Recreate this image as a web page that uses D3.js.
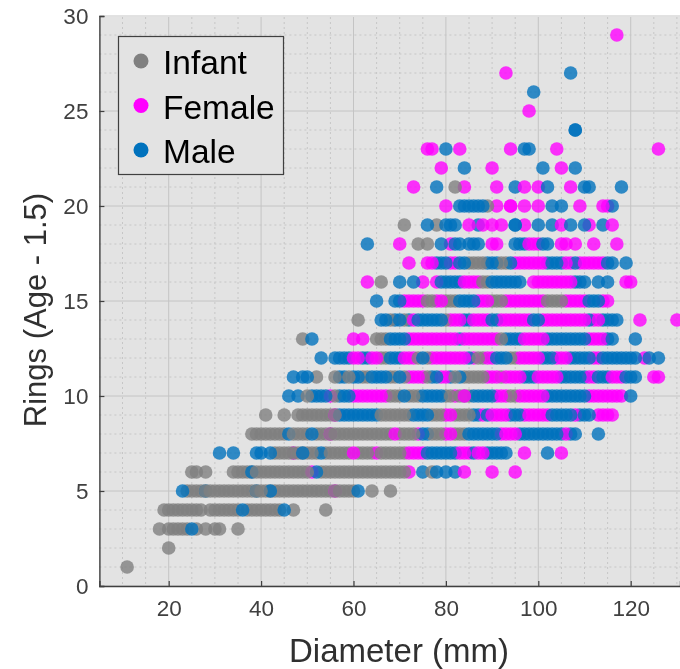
<!DOCTYPE html>
<html>
<head>
<meta charset="utf-8">
<script src="https://cdnjs.cloudflare.com/ajax/libs/d3/7.8.5/d3.min.js"></script>
<style>
  html, body { margin: 0; padding: 0; background: #fff; }
  svg { display: block; filter: blur(0.45px); font-family: "Liberation Sans", Arial, sans-serif; }
</style>
</head>
<body>
<svg id="chart" width="680" height="669"></svg>
<script>
var sexes = ["Infant", "Female", "Male"];
var sexColors = ["#808080", "#ff00ff", "#0072bd"];
var xTicks = [20, 40, 60, 80, 100, 120];
var yTicks = [0, 5, 10, 15, 20, 25, 30];

// diameters (mm), one list per rings value
var infantByRing = {
  1: [11],
  2: [20],
  3: [18, 20, 21, 22, 23, 24, 26, 28, 30, 31, 35],
  4: [19, 20, 21, 22, 23, 24, 25, 26, 27, 29, 30, 31, 32, 33, 34, 35, 37, 38, 39, 40, 41, 42, 43, 44, 47, 54],
  5: [24, 25, 26, 27, 28, 29, 30, 31, 32, 33, 34, 35, 36, 37, 38, 39, 40, 41, 42, 43, 44, 45, 46, 47, 48, 49, 50, 51, 52, 53, 54, 55, 56, 57, 58, 59, 60, 64, 68],
  6: [25, 26, 28, 34, 35, 36, 37, 38, 39, 40, 41, 42, 43, 44, 45, 46, 47, 48, 49, 50, 53, 54, 55, 56, 57, 58, 59, 60, 61, 62, 63, 64, 65, 66, 67, 68, 69, 70, 71, 77],
  7: [43, 44, 45, 46, 47, 48, 49, 50, 51, 52, 54, 55, 56, 57, 58, 59, 61, 62, 63, 64, 66, 67, 68, 69, 70, 71],
  8: [38, 39, 40, 41, 42, 43, 44, 45, 47, 48, 49, 50, 52, 53, 54, 55, 56, 57, 58, 59, 60, 61, 62, 63, 64, 65, 66, 67, 68, 70, 71, 72, 73, 77, 78, 79, 82, 83, 84],
  9: [41, 45, 48, 49, 50, 51, 52, 53, 54, 55, 56, 66, 67, 68, 69, 70, 71, 72, 77, 78, 79, 82, 83, 84, 85],
  10: [50, 56, 68, 69, 70, 72, 73, 74, 80, 81, 83, 84, 85, 94, 95],
  11: [52, 56, 59, 62, 63, 68, 69, 71, 76, 82, 84, 85, 86, 87, 88, 92],
  12: [66, 67, 74, 76, 87, 88, 94, 95],
  13: [49, 65, 66, 67, 92],
  14: [61, 68, 71, 80],
  15: [76, 77, 80, 81, 82, 90, 91, 92, 102, 103, 104, 105],
  16: [66, 88, 89],
  17: [85, 86, 87, 88, 92, 93],
  18: [74, 76],
  19: [71, 78],
  20: [89],
  21: [82]
};

var femaleByRing = {
  5: [56],
  6: [51, 72, 84, 90, 95],
  7: [47, 60, 65, 72, 73, 74, 75, 83, 84, 85, 87, 88, 97, 105],
  8: [55, 69, 74, 80, 81, 92, 93, 94, 95, 106],
  9: [56, 80, 81, 88, 90, 91, 92, 93, 97, 98, 99, 100, 101, 102, 108, 113, 114, 115, 116],
  10: [55, 60, 61, 62, 63, 64, 65, 66, 67, 82, 84, 91, 92, 93, 96, 97, 98, 99, 100, 101, 111, 112, 113, 114, 115, 116, 117, 118],
  11: [72, 73, 74, 75, 79, 80, 89, 90, 91, 93, 94, 95, 96, 100, 101, 102, 103, 104, 111, 112, 116, 117, 118, 125, 126],
  12: [60, 61, 64, 65, 71, 72, 73, 77, 78, 79, 80, 81, 82, 83, 84, 86, 89, 90, 96, 97, 98, 99, 100, 104, 105, 106, 112, 113, 123],
  13: [60, 62, 72, 73, 74, 75, 76, 77, 78, 79, 80, 81, 82, 84, 85, 86, 87, 88, 89, 90, 91, 97, 98, 99, 100, 101, 111, 112, 113, 114],
  14: [73, 81, 82, 83, 86, 87, 88, 89, 92, 93, 94, 95, 96, 97, 98, 101, 102, 103, 104, 105, 106, 107, 108, 109, 110, 112, 113, 122, 130],
  15: [71, 72, 73, 74, 75, 78, 79, 87, 88, 89, 93, 94, 95, 96, 97, 98, 99, 100, 101, 106, 107, 108, 109, 110, 114, 115],
  16: [63, 75, 78, 84, 85, 86, 87, 99, 100, 101, 102, 103, 104, 105, 106, 107, 119, 120],
  17: [72, 76, 77, 81, 82, 95, 96, 97, 98, 99, 100, 101, 106, 107, 109, 110, 111, 112, 113, 114],
  18: [70, 81, 90, 91, 98, 99, 100, 105, 106, 108, 112, 117],
  19: [85, 88, 90, 92, 97, 105, 111, 116],
  20: [80, 91, 94, 94, 97, 100, 109, 114, 115],
  21: [73, 84, 91, 97, 100, 107],
  22: [79, 90, 105],
  23: [76, 77, 83, 94, 104, 126],
  25: [98],
  27: [93],
  29: [117]
};

var maleByRing = {
  3: [25],
  4: [36, 45],
  5: [23, 28, 39, 42, 61],
  6: [38, 52, 75, 78, 80, 82],
  7: [31, 34, 39, 40, 42, 49, 53, 76, 77, 78, 79, 80, 81, 82, 86, 89, 90, 91, 92, 93, 102],
  8: [46, 51, 75, 76, 85, 86, 87, 88, 89, 90, 91, 96, 97, 98, 99, 100, 101, 102, 103, 104, 105, 107, 108, 113],
  9: [57, 58, 59, 60, 61, 62, 63, 64, 65, 73, 74, 75, 76, 86, 87, 89, 94, 95, 96, 103, 104, 105, 106, 107, 109, 110, 111],
  10: [46, 48, 51, 52, 53, 54, 57, 58, 59, 71, 75, 76, 77, 78, 79, 86, 87, 88, 89, 90, 102, 103, 104, 105, 106, 107, 108, 109, 110, 120],
  11: [47, 49, 50, 57, 58, 60, 61, 64, 65, 66, 67, 70, 77, 78, 81, 83, 97, 98, 99, 105, 106, 107, 108, 109, 110, 113, 114, 115, 119, 120, 121],
  12: [53, 56, 57, 58, 59, 62, 63, 68, 69, 70, 75, 85, 91, 92, 93, 101, 102, 103, 107, 108, 109, 110, 111, 114, 115, 116, 117, 118, 119, 120, 121, 124, 126],
  13: [51, 68, 69, 70, 71, 83, 93, 94, 95, 96, 102, 103, 104, 105, 106, 107, 108, 109, 110, 115, 116, 121],
  14: [66, 67, 69, 70, 72, 74, 75, 76, 77, 78, 79, 84, 85, 90, 91, 99, 100, 111, 114, 115, 116, 117],
  15: [65, 69, 70, 83, 84, 85, 86, 111, 112, 113],
  16: [70, 73, 79, 80, 81, 82, 83, 90, 91, 92, 93, 94, 95, 96, 108, 109, 110, 113, 115],
  17: [78, 79, 80, 83, 84, 89, 90, 91, 94, 102, 103, 104, 105, 108, 115, 116, 119],
  18: [63, 79, 82, 83, 85, 86, 87, 95, 96, 97, 101, 102],
  19: [76, 80, 81, 82, 87, 95, 95, 100, 103, 107, 110, 114],
  20: [83, 84, 85, 86, 87, 88, 103, 105, 116],
  21: [78, 95, 102, 110, 111, 118],
  22: [84, 101, 108],
  23: [80, 97, 98],
  24: [108, 108],
  26: [99],
  27: [107]
};

var svg = d3.select("#chart");
var plotLeft = 99.4, plotRight = 680, plotTop = 16, plotBottom = 586;

var x = d3.scaleLinear().domain([5, 130.67]).range([plotLeft, plotRight]);
var y = d3.scaleLinear().domain([0, 30]).range([plotBottom, plotTop]);

svg.append("rect")
  .attr("x", plotLeft).attr("y", plotTop + 1)
  .attr("width", plotRight - plotLeft).attr("height", plotBottom - plotTop - 1)
  .attr("fill", "#e3e3e3");

// minor grid, dotted
svg.append("g").selectAll("line")
  .data(d3.range(10, 131, 5).filter(function(d) { return d % 20 != 0; }))
  .enter().append("line")
  .attr("x1", function(d) { return x(d); }).attr("x2", function(d) { return x(d); })
  .attr("y1", plotTop + 1).attr("y2", plotBottom)
  .attr("stroke", "#c6c6c6").attr("stroke-dasharray", "2,3");

svg.append("g").selectAll("line")
  .data(d3.range(1, 30).filter(function(d) { return d % 5 != 0; }))
  .enter().append("line")
  .attr("x1", plotLeft).attr("x2", plotRight)
  .attr("y1", function(d) { return y(d); }).attr("y2", function(d) { return y(d); })
  .attr("stroke", "#c6c6c6").attr("stroke-dasharray", "2,3");

// major grid
svg.append("g").selectAll("line")
  .data(xTicks)
  .enter().append("line")
  .attr("x1", function(d) { return x(d); }).attr("x2", function(d) { return x(d); })
  .attr("y1", plotTop + 1).attr("y2", plotBottom)
  .attr("stroke", "#c4c4c4");

svg.append("g").selectAll("line")
  .data(yTicks)
  .enter().append("line")
  .attr("x1", plotLeft).attr("x2", plotRight)
  .attr("y1", function(d) { return y(d); }).attr("y2", function(d) { return y(d); })
  .attr("stroke", "#c4c4c4");

// flatten the three tables
var points = [];
[infantByRing, femaleByRing, maleByRing].forEach(function(table, s) {
  Object.keys(table).forEach(function(ring) {
    table[ring].forEach(function(d, i) {
      points.push({ d: d, r: +ring, s: s, order: (d * 7 + ring * 3 + s * 5 + i * 2) % 11 });
    });
  });
});
points.sort(function(a, b) { return a.order - b.order; });

svg.append("g").selectAll("circle")
  .data(points)
  .enter().append("circle")
  .attr("cx", function(p) { return x(p.d); })
  .attr("cy", function(p) { return y(p.r); })
  .attr("r", 6.8)
  .attr("fill", function(p) { return sexColors[p.s]; })
  .attr("fill-opacity", 0.8);

// axes
var xAxis = d3.axisBottom(x).tickValues(xTicks).tickSize(-5).tickPadding(14);
var yAxis = d3.axisLeft(y).tickValues(yTicks).tickSize(-5).tickPadding(11);

var gx = svg.append("g").attr("transform", "translate(0," + plotBottom + ")").call(xAxis);
var gy = svg.append("g").attr("transform", "translate(" + plotLeft + ",0)").call(yAxis);

[gx, gy].forEach(function(g) {
  g.selectAll(".domain").attr("stroke", "#404040").attr("stroke-width", 1.4);
  g.selectAll(".tick line").attr("stroke", "#404040").attr("stroke-width", 1.2);
  g.selectAll("text").attr("fill", "#404040").style("font-size", "22.5px");
});

svg.append("text")
  .attr("x", 399).attr("y", 662)
  .attr("text-anchor", "middle")
  .attr("fill", "#303030")
  .style("font-size", "33px")
  .text("Diameter (mm)");

svg.append("text")
  .attr("transform", "translate(46,310) rotate(-90)")
  .attr("text-anchor", "middle")
  .attr("fill", "#303030")
  .style("font-size", "31px")
  .text("Rings (Age - 1.5)");

// legend
var legend = svg.append("g");
legend.append("rect")
  .attr("x", 118.5).attr("y", 36.5)
  .attr("width", 165).attr("height", 138)
  .attr("fill", "#e3e3e3").attr("stroke", "#404040").attr("stroke-width", 1.2);

var item = legend.selectAll("g.item")
  .data(sexes)
  .enter().append("g")
  .attr("class", "item")
  .attr("transform", function(d, i) { return "translate(141," + (61 + i * 44.5) + ")"; });

item.append("circle")
  .attr("r", 7.5)
  .attr("fill", function(d, i) { return sexColors[i]; });

item.append("text")
  .attr("x", 22).attr("y", 13)
  .attr("fill", "#000")
  .style("font-size", "33.5px")
  .text(function(d) { return d; });
</script>
</body>
</html>
